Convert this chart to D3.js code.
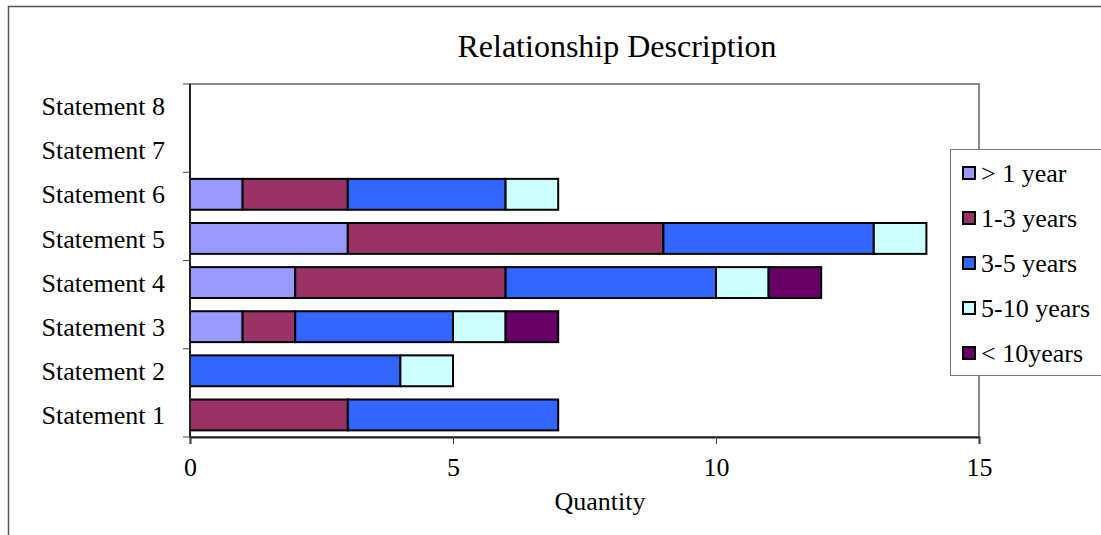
<!DOCTYPE html>
<html>
<head>
<meta charset="utf-8">
<script src="https://cdn.jsdelivr.net/npm/d3@7"></script>
<style>
  html, body { margin: 0; padding: 0; background: #fff; }
  svg { display: block; font-family: "Liberation Serif", "Times New Roman", serif; }
</style>
</head>
<body>
<svg id="chart" width="1101" height="535"></svg>
<script>
// Categories, bottom to top
const statements = ["Statement 1", "Statement 2", "Statement 3", "Statement 4",
                    "Statement 5", "Statement 6", "Statement 7", "Statement 8"];
const seriesNames = ["> 1 year", "1-3 years", "3-5 years", "5-10 years", "< 10years"];
const seriesColors = ["#9999FF", "#993366", "#3366FF", "#CCFFFF", "#660066"];

// Counts per statement for each series
const lessThan1 = [0, 0, 1, 2, 3, 1, 0, 0];
const years1to3 = [3, 0, 1, 4, 6, 2, 0, 0];
const years3to5 = [4, 4, 3, 4, 4, 3, 0, 0];
const years5to10 = [0, 1, 1, 1, 1, 1, 0, 0];
const over10 = [0, 0, 1, 1, 0, 0, 0, 0];
const xTicks = [0, 5, 10, 15];

const seriesValues = [lessThan1, years1to3, years3to5, years5to10, over10];
const rows = statements.map((s, i) => {
  const r = { statement: s };
  seriesNames.forEach((n, k) => { r[n] = seriesValues[k][i]; });
  return r;
});

const svg = d3.select("#chart");
const plot = { left: 190, right: 979, top: 84, bottom: 437 };
const fontSize = 26;

// Outer chart frame
svg.append("path")
  .attr("d", "M8.5,540 V6.5 H1110")
  .attr("fill", "none").attr("stroke", "#555").attr("stroke-width", 1.5);

const x = d3.scaleLinear().domain([0, 15]).range([plot.left, plot.right]);
const y = d3.scaleBand().domain(statements.slice().reverse())
  .range([plot.top, plot.bottom]).paddingInner(0.3).paddingOuter(0.15);

// Plot area border
svg.append("rect")
  .attr("x", plot.left).attr("y", plot.top)
  .attr("width", plot.right - plot.left).attr("height", plot.bottom - plot.top)
  .attr("fill", "#fff").attr("stroke", "#888").attr("stroke-width", 2);

// Stacked bars
const stack = d3.stack().keys(seriesNames)(rows);
svg.append("g").selectAll("g").data(stack).join("g")
  .attr("fill", (d, i) => seriesColors[i])
  .selectAll("rect").data(d => d.filter(p => p[1] - p[0] > 0)).join("rect")
  .attr("x", d => x(d[0]))
  .attr("width", d => x(d[1]) - x(d[0]))
  .attr("y", d => y(d.data.statement))
  .attr("height", y.bandwidth())
  .attr("stroke", "#000").attr("stroke-width", 2);

// Y axis line with ticks every other category boundary
const step = (plot.bottom - plot.top) / statements.length;
svg.append("line")
  .attr("x1", plot.left).attr("x2", plot.left)
  .attr("y1", plot.top).attr("y2", plot.bottom)
  .attr("stroke", "#222").attr("stroke-width", 2);
svg.append("g").selectAll("line").data(d3.range(0, statements.length + 1, 2)).join("line")
  .attr("x1", plot.left - 7).attr("x2", plot.left)
  .attr("y1", i => plot.top + i * step).attr("y2", i => plot.top + i * step)
  .attr("stroke", "#444").attr("stroke-width", 1);

// Category labels
svg.append("g").selectAll("text").data(statements).join("text")
  .attr("x", 165)
  .attr("y", d => y(d) + y.bandwidth() / 2)
  .attr("dy", "0.35em")
  .attr("text-anchor", "end")
  .attr("font-size", fontSize)
  .text(d => d);

// X axis
const xAxis = d3.axisBottom(x).tickValues(xTicks).tickSize(7).tickPadding(14).tickFormat(d3.format("d"));
const gx = svg.append("g").attr("transform", `translate(0,${plot.bottom})`).call(xAxis);
gx.select(".domain").attr("stroke", "#222").attr("stroke-width", 2);
gx.selectAll(".tick line").attr("stroke", "#444");
gx.selectAll(".tick text")
  .attr("font-family", "Liberation Serif, Times New Roman, serif")
  .attr("font-size", fontSize).attr("fill", "#000");

// Axis title
svg.append("text")
  .attr("x", 600).attr("y", 510)
  .attr("text-anchor", "middle").attr("font-size", fontSize)
  .text("Quantity");

// Chart title
svg.append("text")
  .attr("x", 617).attr("y", 57)
  .attr("text-anchor", "middle").attr("font-size", 32)
  .text("Relationship Description");

// Legend
const legend = svg.append("g");
legend.append("rect")
  .attr("x", 950.5).attr("y", 149.5).attr("width", 170).attr("height", 226)
  .attr("fill", "#fff").attr("stroke", "#777").attr("stroke-width", 1);
const items = legend.selectAll("g.item").data(seriesNames).join("g")
  .attr("class", "item")
  .attr("transform", (d, i) => `translate(0,${173 + i * 45})`);
items.append("rect")
  .attr("x", 963).attr("y", -6).attr("width", 12).attr("height", 12)
  .attr("fill", (d, i) => seriesColors[i])
  .attr("stroke", "#000").attr("stroke-width", 2);
items.append("text")
  .attr("x", 981).attr("y", 0).attr("dy", "0.35em")
  .attr("font-size", fontSize)
  .text(d => d);
</script>
</body>
</html>
